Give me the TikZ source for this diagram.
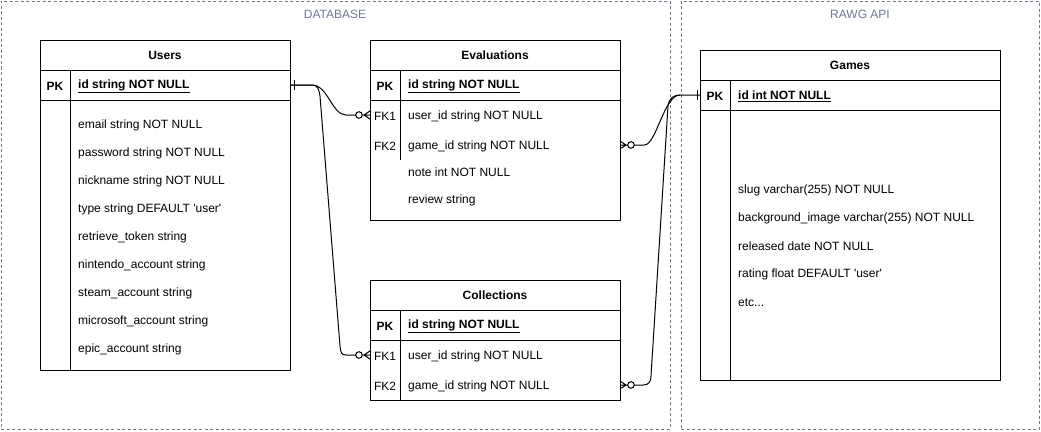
\documentclass[tikz,border=0pt]{standalone}
\usepackage{fontspec}
\setmainfont{Liberation Sans}[Ligatures=TeXOff]
\definecolor{grpc}{HTML}{6B7A8F}
\newcommand\zeromany[2]{%
  \draw[conn] ([xshift={(#2)*(-6pt)}]#1) -- ++({(#2)*6},-4)
              ([xshift={(#2)*(-6pt)}]#1) -- ++({(#2)*6},4)
              ([xshift={(#2)*(-7.7pt)}]#1) -- (#1);
  \draw[conn] ([xshift={(#2)*(-11pt)}]#1) circle (3.3pt);
}
\newcommand\onebar[2]{%
  \draw[conn] ([xshift={(#2)*(4pt)}]#1) ++(0,-5) -- ++(0,10);
}
\begin{document}
\begin{tikzpicture}[x=1pt,y=-1pt,font=\fontsize{12}{14}\selectfont,
  box/.style={draw,line width=1pt,inner sep=0pt,outer sep=0pt,anchor=north west,minimum height=30},
  rowbox/.style={inner sep=0pt,outer sep=0pt,anchor=north west,minimum height=30},
  fld/.style={anchor=west,inner sep=0pt,yshift=-1.2pt},
  keyl/.style={anchor=center,inner sep=0pt,yshift=-1pt},
  grp/.style={draw=grpc,dash pattern=on 3pt off 2.5pt,line width=0.8pt,inner sep=0pt,outer sep=0pt,anchor=north west},
  grpl/.style={text=grpc,inner sep=0pt},
  conn/.style={line width=1pt,black},
  sep/.style={line width=1pt}]
\useasboundingbox (0,0) rectangle (1041,431);

% groups
\node[grp,minimum width=669,minimum height=428] (db) at (1,1) {};
\node[grpl] (dbl) at (335,14) {DATABASE};
\node[grp,minimum width=358,minimum height=428] (api) at (681,1) {};
\node[grpl] (apil) at (860,14) {RAWG API};

% Users
\node[box,minimum width=250,font=\fontsize{12}{14}\selectfont\bfseries] (uh) at (40,40) {Users};
\node[box,minimum width=250] (upk) at (40,70) {};
\node[box,minimum width=250,minimum height=270] (ub) at (40,100) {};
\draw[sep] ([xshift=30pt]upk.north west) -- ([xshift=30pt]ub.south west);
\node[keyl,font=\fontsize{12}{14}\selectfont\bfseries] (upkk) at ([xshift=15pt]upk.west) {PK};
\node[fld,font=\fontsize{12}{14}\selectfont\bfseries] (uid) at ([xshift=38pt]upk.west) {\underline{id string NOT NULL}};
\foreach \t [count=\i] in {email string NOT NULL,password string NOT NULL,nickname string NOT NULL,type string DEFAULT 'user',retrieve\_token string,nintendo\_account string,steam\_account string,microsoft\_account string,epic\_account string}
  \node[fld] (uf\i) at (78,96+28*\i) {\t};

% Evaluations
\node[box,minimum width=250,font=\fontsize{12}{14}\selectfont\bfseries] (eh) at (370,40) {Evaluations};
\node[box,minimum width=250] (epk) at (370,70) {};
\node[box,minimum width=250,minimum height=120] (eb) at (370,100) {};
\node[rowbox,minimum width=250] (erow1) at (370,100) {};
\node[rowbox,minimum width=250] (erow2) at (370,130) {};
\draw[sep] ([xshift=30pt]epk.north west) -- ([xshift=30pt]erow2.south west);
\node[keyl,font=\fontsize{12}{14}\selectfont\bfseries] (epkk) at ([xshift=15pt]epk.west) {PK};
\node[fld,font=\fontsize{12}{14}\selectfont\bfseries] (eid) at ([xshift=38pt]epk.west) {\underline{id string NOT NULL}};
\node[keyl] (ek1) at ([xshift=15pt]erow1.west) {FK1};
\node[fld] (ef1) at ([xshift=38pt]erow1.west) {user\_id string NOT NULL};
\node[keyl] (ek2) at ([xshift=15pt]erow2.west) {FK2};
\node[fld] (ef2) at ([xshift=38pt]erow2.west) {game\_id string NOT NULL};
\node[fld] (ef3) at (408,171) {note int NOT NULL};
\node[fld] (ef4) at (408,199) {review string};

% Collections
\node[box,minimum width=250,font=\fontsize{12}{14}\selectfont\bfseries] (ch) at (370,280) {Collections};
\node[box,minimum width=250] (cpk) at (370,310) {};
\node[box,minimum width=250,minimum height=60] (cb) at (370,340) {};
\node[rowbox,minimum width=250] (crow1) at (370,340) {};
\node[rowbox,minimum width=250] (crow2) at (370,370) {};
\draw[sep] ([xshift=30pt]cpk.north west) -- ([xshift=30pt]cb.south west);
\node[keyl,font=\fontsize{12}{14}\selectfont\bfseries] (cpkk) at ([xshift=15pt]cpk.west) {PK};
\node[fld,font=\fontsize{12}{14}\selectfont\bfseries] (cid) at ([xshift=38pt]cpk.west) {\underline{id string NOT NULL}};
\node[keyl] (ck1) at ([xshift=15pt]crow1.west) {FK1};
\node[fld] (cf1) at ([xshift=38pt]crow1.west) {user\_id string NOT NULL};
\node[keyl] (ck2) at ([xshift=15pt]crow2.west) {FK2};
\node[fld] (cf2) at ([xshift=38pt]crow2.west) {game\_id string NOT NULL};

% Games
\node[box,minimum width=300,font=\fontsize{12}{14}\selectfont\bfseries] (gh) at (700,50) {Games};
\node[box,minimum width=300] (gpk) at (700,80) {};
\node[box,minimum width=300,minimum height=270] (gb) at (700,110) {};
\draw[sep] ([xshift=30pt]gpk.north west) -- ([xshift=30pt]gb.south west);
\node[keyl,font=\fontsize{12}{14}\selectfont\bfseries] (gpkk) at ([xshift=15pt]gpk.west) {PK};
\node[fld,font=\fontsize{12}{14}\selectfont\bfseries] (gid) at ([xshift=38pt]gpk.west) {\underline{id int NOT NULL}};
\foreach \t [count=\i] in {slug varchar(255) NOT NULL,background\_image varchar(255) NOT NULL,released date NOT NULL,rating float DEFAULT 'user'}
  \node[fld] (gf\i) at (738,160.5+28.2*\i) {\t};
\node[fld] (gf5) at (738,301.5) {etc...};

% connectors
\draw[conn] (upk.east) -- ++(22,0) .. controls +(16,0) and +(-14,0) .. ([xshift=-24pt]erow1.west) -- ([xshift=-14.3pt]erow1.west);
\draw[conn] (upk.east) -- ++(22,0) .. controls +(6,0) and +(-1,-6) .. (320,96) -- (340,346) .. controls +(0.7,6) and +(-5,0) .. ([xshift=-24pt]crow1.west) -- ([xshift=-14.3pt]crow1.west);
\draw[conn] ([xshift=14.3pt]erow2.east) -- ++(10,0) .. controls +(12,0) and +(-16,0) .. ([xshift=-20pt]gpk.west) -- (gpk.west);
\draw[conn] ([xshift=14.3pt]crow2.east) -- ++(9,0) .. controls +(5,0) and +(0,6) .. (651,376) -- (668,106) .. controls +(1,-8) and +(-6,0) .. ([xshift=-20pt]gpk.west);
\onebar{upk.east}{1}
\onebar{gpk.west}{-0.75}
\zeromany{erow1.west}{1}
\zeromany{crow1.west}{1}
\zeromany{erow2.east}{-1}
\zeromany{crow2.east}{-1}
\end{tikzpicture}
\end{document}
